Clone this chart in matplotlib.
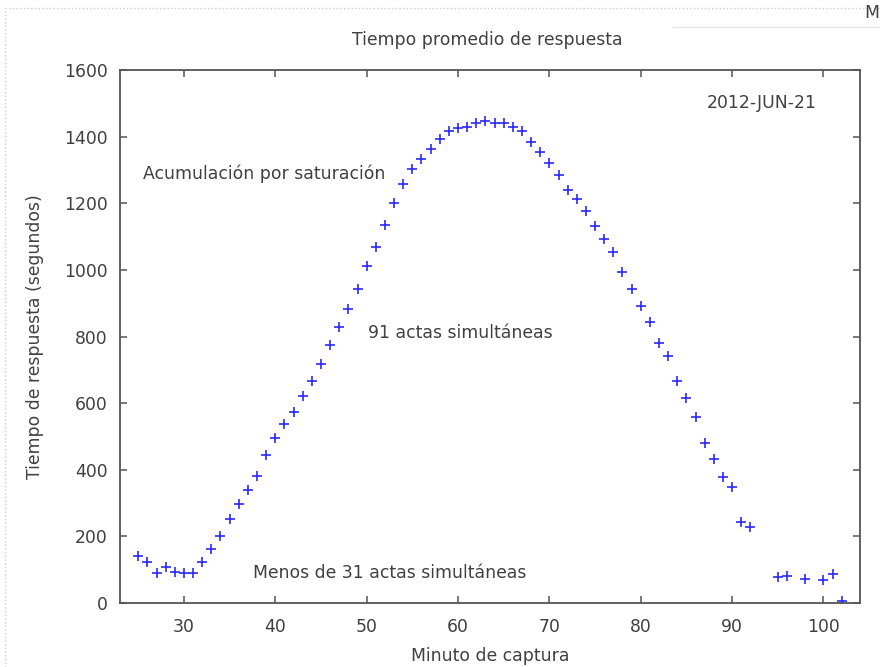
import matplotlib.pyplot as plt
from matplotlib.lines import Line2D

# minuto de captura vs tiempo promedio de respuesta (segundos)
minutos = [25, 26, 27, 28, 29, 30, 31, 32, 33, 34, 35, 36, 37, 38, 39, 40, 41, 42,
           43, 44, 45, 46, 47, 48, 49, 50, 51, 52, 53, 54, 55, 56, 57, 58, 59, 60,
           61, 62, 63, 64, 65, 66, 67, 68, 69, 70, 71, 72, 73, 74, 75, 76, 77, 78,
           79, 80, 81, 82, 83, 84, 85, 86, 87, 88, 89, 90, 91, 92,
           95, 96, 98, 100, 101, 102]
tiempos = [141, 122, 89, 107, 94, 89, 89, 122, 162, 201, 251, 296, 338, 382, 444, 494, 536, 572,
           621, 667, 717, 775, 830, 883, 942, 1013, 1070, 1135, 1200, 1258, 1302, 1334, 1363, 1392, 1417, 1425,
           1430, 1442, 1447, 1442, 1440, 1430, 1417, 1385, 1355, 1322, 1285, 1240, 1212, 1178, 1132, 1092, 1053, 995,
           942, 893, 843, 780, 740, 665, 615, 558, 480, 433, 377, 347, 243, 227,
           77, 80, 73, 70, 87, 5]

titulo = "Tiempo promedio de respuesta"
fecha = "2012-JUN-21"
etiquetas = [(25.5, 1290, "Acumulación por saturación"),
             (50.2, 810, "91 actas simultáneas"),
             (37.6, 90, "Menos de 31 actas simultáneas")]
xticks = [30, 40, 50, 60, 70, 80, 90, 100]
yticks = [0, 200, 400, 600, 800, 1000, 1200, 1400, 1600]

gris = "#404040"
fs = 12.4
plt.rcParams['font.family'] = ['DejaVu Sans']

fig = plt.figure(figsize=(8.8, 6.67), dpi=100)
ax = fig.add_axes([120 / 880, 64 / 667, 740 / 880, 533 / 667])

ax.plot(minutos, tiempos, linestyle='none', marker='+', color='#2a2aff',
        markersize=7, markeredgewidth=1.2)

ax.set_xlim(23, 104)
ax.set_ylim(0, 1600)
ax.set_xticks(xticks)
ax.set_yticks(yticks)
ax.tick_params(direction='in', length=5, width=1.1, color='#555555',
               top=True, right=True, labelsize=fs, labelcolor=gris)
ax.tick_params(axis='x', pad=11)
ax.tick_params(axis='y', pad=9)
for s in ax.spines.values():
    s.set_color('#555555')
    s.set_linewidth(1.3)

ax.set_xlabel("Minuto de captura", fontsize=fs, color=gris, labelpad=8)
ax.set_ylabel("Tiempo de respuesta (segundos)", fontsize=fs, color=gris, labelpad=14)
fig.text(487 / 880, 1 - 40 / 667, titulo, ha='center', va='center', fontsize=fs, color=gris)

ax.text(93.2, 1500, fecha, ha='center', va='center', fontsize=fs, color=gris)
for x, y, t in etiquetas:
    ax.text(x, y, t, ha='left', va='center', fontsize=fs, color=gris)

# bordes de la captura de pantalla
fig.add_artist(Line2D([5 / 880, 5 / 880], [0, 1 - 8 / 667], color='#cccccc', lw=1, ls=':'))
fig.add_artist(Line2D([5 / 880, 1], [1 - 8 / 667, 1 - 8 / 667], color='#cccccc', lw=1, ls=':'))
fig.add_artist(Line2D([673 / 880, 1], [1 - 27 / 667, 1 - 27 / 667], color='#e6e6e6', lw=1))
fig.text(864 / 880, 1 - 13 / 667, "M", ha='left', va='center', fontsize=fs, color=gris)

fig.savefig("out.png", dpi=100)
